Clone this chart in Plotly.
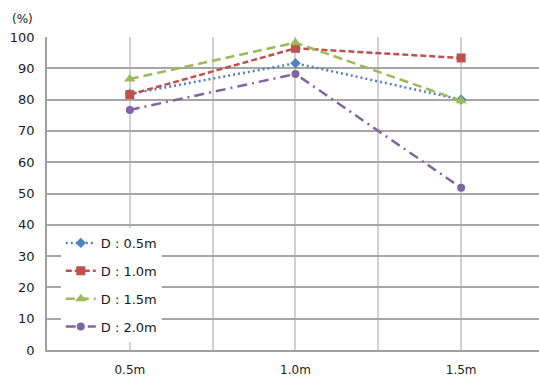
import plotly.graph_objects as go

# Categories (position along x) and series values in percent
categories = ["0.5m", "1.0m", "1.5m"]
d05 = [81.8, 91.6, 80.0]
d10 = [81.6, 96.4, 93.3]
d15 = [86.6, 98.2, 79.6]
d20 = [76.7, 88.2, 51.8]

series_names = ["D : 0.5m", "D : 1.0m", "D : 1.5m", "D : 2.0m"]
series_values = [d05, d10, d15, d20]
colors = ["#4F81BD", "#C0504D", "#9BBB59", "#8064A2"]
dashes = ["2px,3px", "6px,3px", "9px,5px", "10px,5px,2px,5px"]
symbols = ["diamond", "square", "triangle-up", "circle"]
msizes = [8, 9, 10, 8]

xpos = list(range(len(categories)))

fig = go.Figure()
for i, (name, vals) in enumerate(zip(series_names, series_values)):
    fig.add_trace(go.Scatter(
        x=xpos, y=vals, name=name, mode="lines+markers",
        legendgroup=f"g{i}",
        line=dict(color=colors[i], width=2.5, dash=dashes[i]),
        marker=dict(symbol=symbols[i], size=msizes[i], color=colors[i]),
    ))

tickvals = [-0.5, 0, 0.5, 1, 1.5, 2]
ticktext = ["", categories[0], "", categories[1], "", categories[2]]

fig.update_layout(
    width=539, height=379,
    margin=dict(l=47, r=0, t=37, b=29),
    paper_bgcolor="white", plot_bgcolor="white",
    font=dict(family="DejaVu Sans, Noto Sans, sans-serif", size=12, color="#222222"),
    xaxis=dict(
        range=[-0.5, 2.47], tickvals=tickvals, ticktext=ticktext,
        showgrid=True, gridcolor="#d0d0d0", gridwidth=1.5,
        zeroline=False, showline=True, linecolor="#a0a0a0", linewidth=1.5,
        ticks="", ticklabelstandoff=8,
        tickfont=dict(size=12, color="#222222"),
    ),
    yaxis=dict(
        range=[0, 100], dtick=10,
        showgrid=True, gridcolor="#a6a6a6", gridwidth=1.5,
        zeroline=False, showline=True, linecolor="#a0a0a0", linewidth=1.5,
        ticks="", ticklabelstandoff=8,
        tickfont=dict(size=13, color="#1a1a2a"),
    ),
    legend=dict(
        x=0.028, y=0.39, xanchor="left", yanchor="top",
        bgcolor="white", borderwidth=0,
        font=dict(size=13, color="#1a1a1a"),
        tracegroupgap=8, itemwidth=30,
    ),
    showlegend=True,
)

fig.add_annotation(
    text="(%)", xref="paper", yref="paper",
    x=-0.05, y=1.0, yshift=18, xanchor="center", yanchor="middle",
    showarrow=False, font=dict(size=12, color="#222222"),
)

fig.write_html("out.html")
